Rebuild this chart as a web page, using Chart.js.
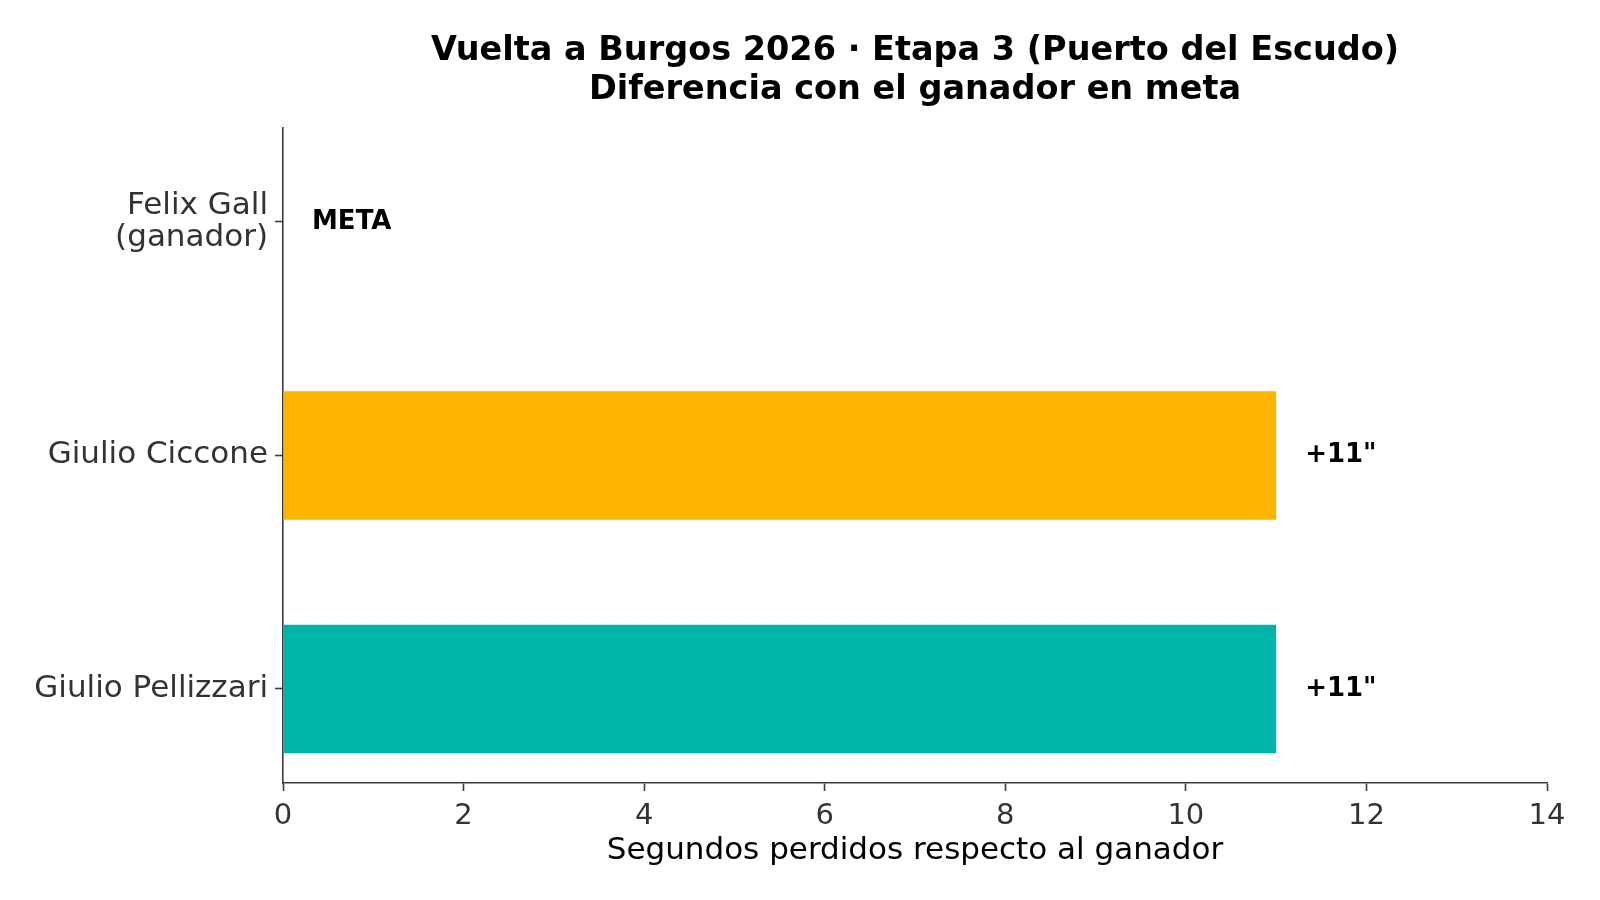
<!DOCTYPE html>
<html>
<head>
<meta charset="utf-8">
<script src="https://cdn.jsdelivr.net/npm/chart.js@4"></script>
<style>
  body { margin: 0; background: #fff; }
  #wrap { width: 1600px; height: 900px; }
</style>
</head>
<body>
<div id="wrap"><canvas id="myChart" width="1600" height="900"></canvas></div>
<script>
// datos de la etapa
const riders = [['Felix Gall', '(ganador)'], 'Giulio Ciccone', 'Giulio Pellizzari'];
const gaps = [0, 11, 11]; // segundos perdidos
const barColors = ['#E8453C', '#FFB400', '#00B5A7'];
const xTicks = [0, 2, 4, 6, 8, 10, 12, 14];

const titleLines = ['Vuelta a Burgos 2026 · Etapa 3 (Puerto del Escudo)', 'Diferencia con el ganador en meta'];
const xTitle = 'Segundos perdidos respecto al ganador';

const axisColor = '#3a3a3a';
const textColor = '#333';
const font = 'DejaVu Sans';

// etiquetas al final de cada barra
const gapLabels = {
  id: 'gapLabels',
  afterDatasetsDraw(chart) {
    const c = chart.ctx;
    const meta = chart.getDatasetMeta(0);
    c.save();
    c.font = 'bold 26px "' + font + '"';
    c.fillStyle = '#000';
    c.textAlign = 'left';
    c.textBaseline = 'middle';
    meta.data.forEach((bar, i) => {
      const v = gaps[i];
      const txt = v === 0 ? 'META' : '+' + v + '"';
      c.fillText(txt, bar.x + 29, bar.y);
    });
    c.restore();
  }
};

const ctx = document.getElementById('myChart');
new Chart(ctx, {
  type: 'bar',
  data: {
    datasets: [{
      data: gaps.map((g, i) => ({ x: g, y: i })),
      backgroundColor: barColors,
      borderWidth: 0,
      categoryPercentage: 1,
      barPercentage: 0.55
    }]
  },
  options: {
    indexAxis: 'y',
    responsive: false,
    animation: false,
    devicePixelRatio: 1,
    layout: { padding: { left: 0, right: 53, top: 0, bottom: 0 } },
    plugins: {
      legend: { display: false },
      tooltip: { enabled: false },
      title: {
        display: true,
        text: titleLines,
        fullSize: false,
        color: '#000',
        font: { family: font, size: 33.5, weight: 'bold', lineHeight: 1.16 },
        padding: { top: 31.6, bottom: 18.5 }
      }
    },
    scales: {
      x: {
        type: 'linear',
        min: 0,
        max: 14,
        afterBuildTicks: axis => { axis.ticks = xTicks.map(v => ({ value: v })); },
        afterFit: axis => { axis.height = 117; },
        grid: { display: true, drawOnChartArea: false, drawTicks: true, tickLength: 8, tickColor: axisColor, tickWidth: 1.6 },
        border: { display: true, color: axisColor, width: 1.6 },
        ticks: { color: textColor, padding: 8, font: { family: font, size: 29 } },
        title: {
          display: true,
          text: xTitle,
          color: '#000',
          font: { family: font, size: 31, lineHeight: 1.2 },
          padding: { top: 4, bottom: 30 }
        }
      },
      y: {
        type: 'linear',
        reverse: true,
        offset: false,
        min: -0.4025,
        max: 2.4025,
        afterBuildTicks: axis => { axis.ticks = riders.map((r, i) => ({ value: i })); },
        afterFit: axis => { axis.width = 283; },
        grid: { display: true, offset: false, drawOnChartArea: false, drawTicks: true, tickLength: 8, tickColor: axisColor, tickWidth: 1.6 },
        border: { display: true, color: axisColor, width: 1.6 },
        ticks: {
          color: textColor,
          padding: 7,
          font: { family: font, size: 31, lineHeight: 1.03 },
          callback: v => riders[v]
        }
      }
    }
  },
  plugins: [gapLabels]
});
</script>
</body>
</html>
